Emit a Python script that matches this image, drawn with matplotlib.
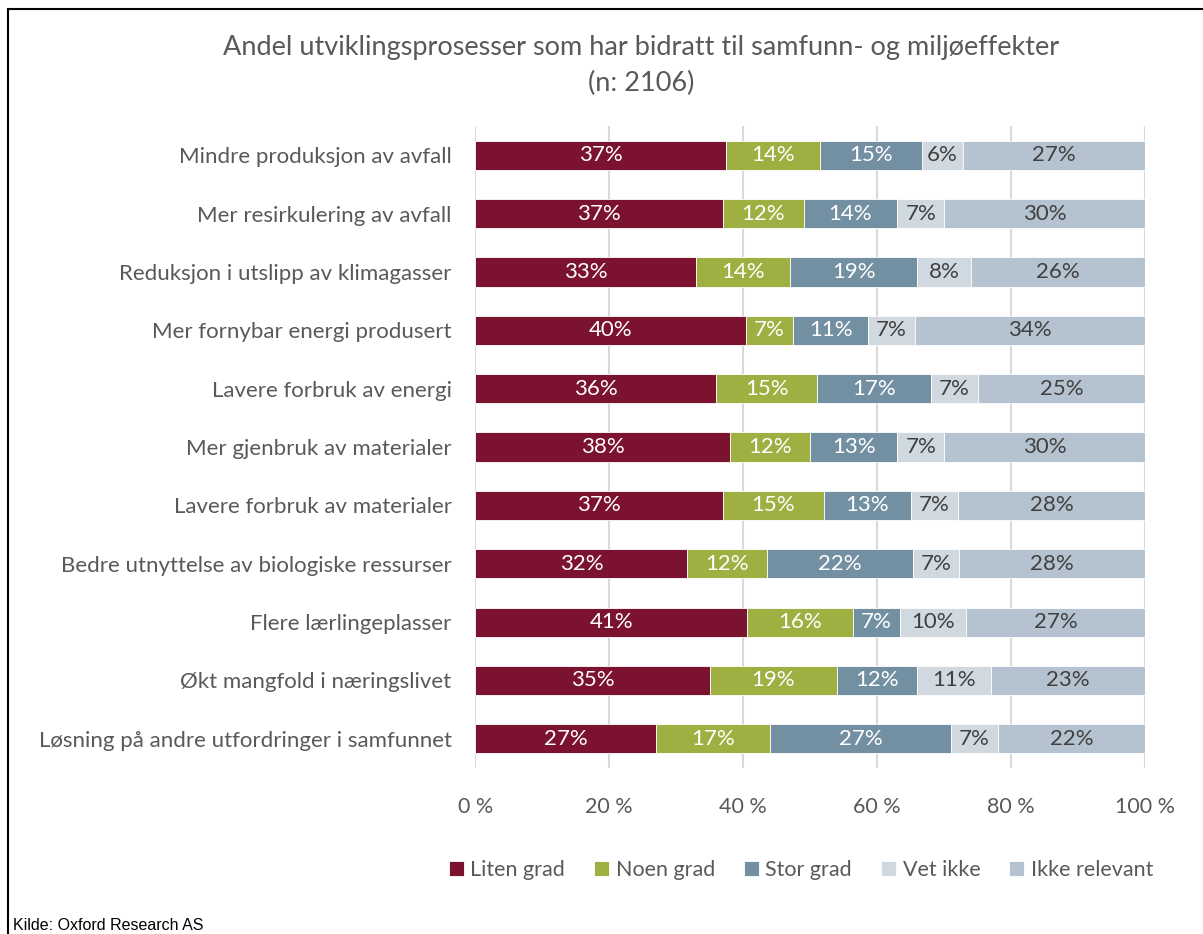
import matplotlib.pyplot as plt
import numpy as np
from matplotlib.lines import Line2D

categories = [
    "Mindre produksjon av avfall",
    "Mer resirkulering av avfall",
    "Reduksjon i utslipp av klimagasser",
    "Mer fornybar energi produsert",
    "Lavere forbruk av energi",
    "Mer gjenbruk av materialer",
    "Lavere forbruk av materialer",
    "Bedre utnyttelse av biologiske ressurser",
    "Flere lærlingeplasser",
    "Økt mangfold i næringslivet",
    "Løsning på andre utfordringer i samfunnet",
]
series = ["Liten grad", "Noen grad", "Stor grad", "Vet ikke", "Ikke relevant"]
liten = [37, 37, 33, 40, 36, 38, 37, 32, 41, 35, 27]
noen = [14, 12, 14, 7, 15, 12, 15, 12, 16, 19, 17]
stor = [15, 14, 19, 11, 17, 13, 13, 22, 7, 12, 27]
vet_ikke = [6, 7, 8, 7, 7, 7, 7, 7, 10, 11, 7]
ikke_relevant = [27, 30, 26, 34, 25, 30, 28, 28, 27, 23, 22]
xticks = [0, 20, 40, 60, 80, 100]

colors = ["#7b1230", "#a0af41", "#7390a2", "#d0d9e0", "#b5c2cf"]
label_colors = ["white", "white", "white", "#404040", "#404040"]
grey = "#595959"
font = "Lato"

plt.rcParams["font.family"] = [font, "DejaVu Sans"]

values = np.array([liten, noen, stor, vet_ikke, ikke_relevant], dtype=float)
# 100 % stacked: each row is scaled to its own total
shares = values / values.sum(axis=0) * 100

fig = plt.figure(figsize=(12.03, 9.34), dpi=100)
ax = fig.add_axes([0.395, 0.1777, 0.557, 0.6873])

y = np.arange(len(categories))
left = np.zeros(len(categories))
for i, name in enumerate(series):
    ax.barh(y, shares[i], left=left, height=0.5, color=colors[i],
            edgecolor="white", linewidth=0.6, label=name, zorder=3)
    for j in range(len(categories)):
        ax.text(left[j] + shares[i][j] / 2, y[j], f"{int(values[i][j])}%",
                ha="center", va="center", fontsize=16,
                color=label_colors[i], zorder=4)
    left += shares[i]

ax.set_xlim(0, 100)
ax.set_ylim(len(categories) - 0.5, -0.5)
ax.set_xticks(xticks)
ax.set_xticklabels([f"{t} %" for t in xticks])
ax.set_yticks(y)
ax.set_yticklabels(categories)
ax.tick_params(axis="x", length=0, pad=21, labelsize=15.5, labelcolor=grey)
ax.tick_params(axis="y", length=0, pad=17, labelsize=16, labelcolor=grey)
ax.grid(axis="x", color="#d9d9d9", linewidth=1.5, zorder=0)
for s in ax.spines.values():
    s.set_visible(False)

fig.text(0.533, 1 - 47 / 934, "Andel utviklingsprosesser som har bidratt til samfunn- og miljøeffekter",
         ha="center", va="center", fontsize=19.5, color=grey)
fig.text(0.533, 1 - 83 / 934, "(n: 2106)", ha="center", va="center",
         fontsize=19.5, color=grey)

handles, labels = ax.get_legend_handles_labels()
fig.legend(handles, labels, loc="center", bbox_to_anchor=(801 / 1203, 1 - 870 / 934),
           ncol=5, frameon=False, fontsize=15.5, labelcolor=grey,
           handlelength=0.7, handleheight=0.7, handletextpad=0.3, columnspacing=1.35)

fig.text(13 / 1203, 1 - 925 / 934, "Kilde: Oxford Research AS", ha="left", va="center",
         fontsize=11.5, family="Liberation Sans", color="black")

# frame along the top and left edge
fig.add_artist(Line2D([8 / 1203, 1.0], [1 - 8.5 / 934, 1 - 8.5 / 934],
                      transform=fig.transFigure, color="black", linewidth=1.5))
fig.add_artist(Line2D([8 / 1203, 8 / 1203], [0, 1 - 8.5 / 934],
                      transform=fig.transFigure, color="black", linewidth=1.5))

fig.savefig("out.png", dpi=100)
